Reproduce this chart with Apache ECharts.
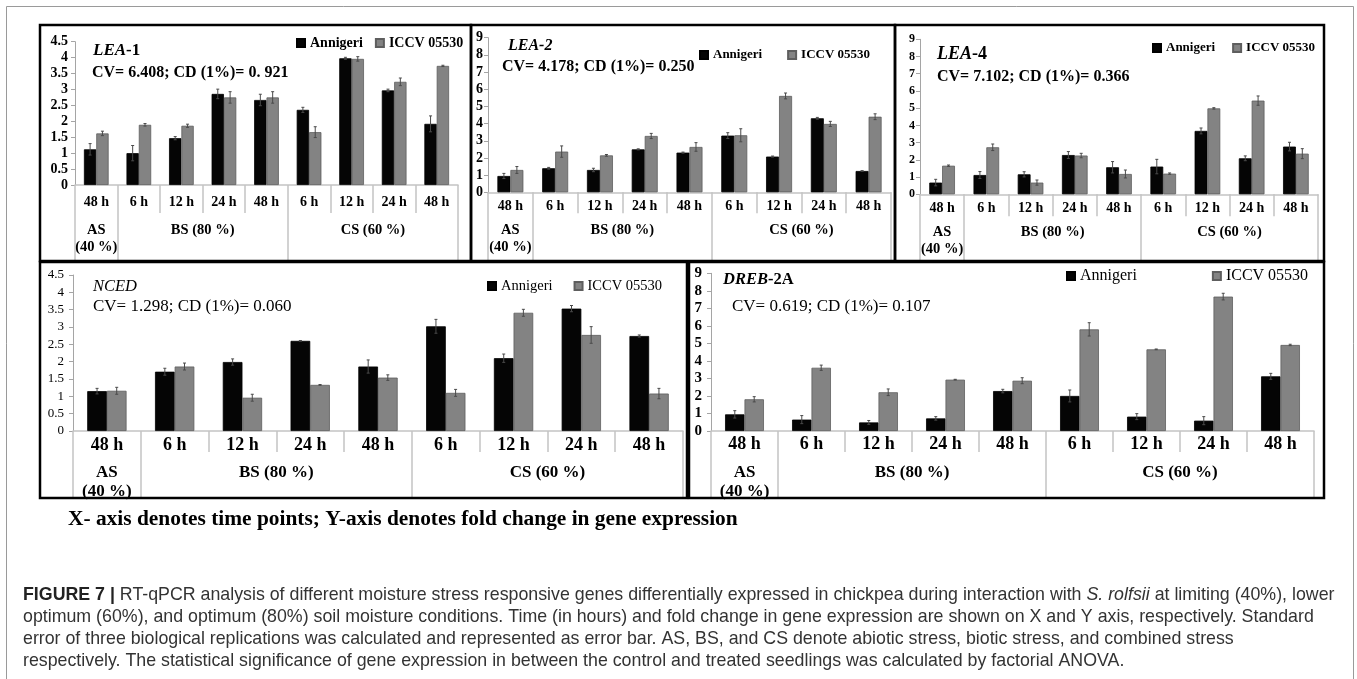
<!DOCTYPE html>
<html><head><meta charset="utf-8">
<script src="https://cdn.jsdelivr.net/npm/echarts@6/dist/echarts.min.js"></script>
<style>html,body{margin:0;padding:0;background:#fff}#c{width:1357px;height:679px}</style>
</head><body><div id="c"></div>
<script>
// ---------- data ----------
const timeLabels = ['48 h','6 h','12 h','24 h','48 h','6 h','12 h','24 h','48 h'];
const groupLabels = ['AS\n(40 %)','BS (80 %)','CS (60 %)'];
const groupBounds = [0, 1, 5, 9];
const seriesNames = ['Annigeri', 'ICCV 05530'];
const panelNames = ['{i|LEA}{b|-1}', '{i|LEA-2}', '{i|LEA}{b|-4}', '{i|NCED}', '{i|DREB}{b|-2A}'];
const cvTexts = ['CV= 6.408; CD (1%)= 0. 921', 'CV= 4.178; CD (1%)= 0.250', 'CV= 7.102; CD (1%)= 0.366',
                 'CV= 1.298; CD (1%)= 0.060', 'CV= 0.619; CD (1%)= 0.107'];
const yMaxes = [4.5, 9, 9, 4.5, 9];
const yIntervals = [0.5, 1, 1, 0.5, 1];

const lea1Annigeri    = [1.12, 1.00, 1.47, 2.86, 2.67, 2.36, 3.98, 2.97, 1.92];
const lea1Iccv        = [1.62, 1.89, 1.86, 2.75, 2.75, 1.66, 3.96, 3.24, 3.74];
const lea1AnnigeriErr = [0.18, 0.24, 0.05, 0.15, 0.18, 0.08, 0.03, 0.04, 0.25];
const lea1IccvErr     = [0.07, 0.04, 0.05, 0.18, 0.18, 0.17, 0.07, 0.12, 0.02];

const lea2Annigeri    = [0.95, 1.40, 1.30, 2.50, 2.31, 3.30, 2.08, 4.31, 1.24];
const lea2Iccv        = [1.30, 2.37, 2.15, 3.28, 2.64, 3.32, 5.61, 3.98, 4.40];
const lea2AnnigeriErr = [0.15, 0.05, 0.10, 0.03, 0.03, 0.17, 0.03, 0.05, 0.02];
const lea2IccvErr     = [0.20, 0.33, 0.05, 0.15, 0.25, 0.38, 0.17, 0.15, 0.17];

const lea4Annigeri    = [0.68, 1.12, 1.16, 2.28, 1.57, 1.61, 3.68, 2.09, 2.77];
const lea4Iccv        = [1.66, 2.73, 0.68, 2.25, 1.18, 1.20, 4.99, 5.44, 2.36];
const lea4AnnigeriErr = [0.19, 0.20, 0.15, 0.20, 0.33, 0.42, 0.17, 0.14, 0.25];
const lea4IccvErr     = [0.04, 0.19, 0.15, 0.13, 0.23, 0.04, 0.04, 0.27, 0.29];

const ncedAnnigeri    = [1.15, 1.71, 1.99, 2.60, 1.86, 3.02, 2.10, 3.53, 2.74];
const ncedIccv        = [1.16, 1.86, 0.96, 1.33, 1.54, 1.10, 3.41, 2.77, 1.08];
const ncedAnnigeriErr = [0.08, 0.10, 0.09, 0.01, 0.19, 0.20, 0.12, 0.09, 0.03];
const ncedIccvErr     = [0.10, 0.10, 0.10, 0.01, 0.08, 0.10, 0.10, 0.24, 0.15];

const drebAnnigeri    = [0.95, 0.65, 0.49, 0.72, 2.28, 2.00, 0.82, 0.59, 3.12];
const drebIccv        = [1.81, 3.61, 2.21, 2.93, 2.87, 5.80, 4.66, 7.67, 4.91];
const drebAnnigeriErr = [0.21, 0.23, 0.11, 0.10, 0.10, 0.34, 0.17, 0.23, 0.17];
const drebIccvErr     = [0.15, 0.15, 0.19, 0.02, 0.17, 0.38, 0.02, 0.19, 0.04];

const noteText = 'X- axis denotes time points; Y-axis denotes fold change in gene expression';
const captionLines = [
  '{b|FIGURE 7 |} RT-qPCR analysis of different moisture stress responsive genes differentially expressed in chickpea during interaction with {i|S. rolfsii} at limiting (40%), lower',
  'optimum (60%), and optimum (80%) soil moisture conditions. Time (in hours) and fold change in gene expression are shown on X and Y axis, respectively. Standard',
  'error of three biological replications was calculated and represented as error bar. AS, BS, and CS denote abiotic stress, biotic stress, and combined stress',
  'respectively. The statistical significance of gene expression in between the control and treated seedlings was calculated by factorial ANOVA.'
];

const panelData = [
  [lea1Annigeri, lea1Iccv, lea1AnnigeriErr, lea1IccvErr],
  [lea2Annigeri, lea2Iccv, lea2AnnigeriErr, lea2IccvErr],
  [lea4Annigeri, lea4Iccv, lea4AnnigeriErr, lea4IccvErr],
  [ncedAnnigeri, ncedIccv, ncedAnnigeriErr, ncedIccvErr],
  [drebAnnigeri, drebIccv, drebAnnigeriErr, drebIccvErr]
];

// ---------- layout / style ----------
const SERIF = 'Liberation Serif, Times New Roman, serif';
const SANS = 'Liberation Sans, Arial, sans-serif';
const LAYOUT = [
  {grid:{left:75, top:41.7, width:383, height:143.3}, box:[40,25,431,236],
   rowTick:28, groupTick:75, rowFont:14, rowMargin:10, groupFont:14.5, groupLH:17, groupMargin:36.5,
   yFont:14, yBold:'bold', yMargin:7, tFont:17, tBold:'bold', tX:93, tTop:41, cvFont:16, cvBold:'bold', cvX:92, cvTop:64,
   lg:{left:296, cy:43, font:14, gap:12, bold:'bold'}},
  {grid:{left:488, top:37.7, width:403, height:154.6}, box:[471,25,424,236],
   rowTick:21, groupTick:68, rowFont:14, rowMargin:7.5, groupFont:14.5, groupLH:17, groupMargin:29,
   yFont:14, yBold:'bold', yMargin:5, tFont:16, tBold:'bold', tX:508, tTop:37, cvFont:16, cvBold:'bold', cvX:502, cvTop:58,
   lg:{left:699, cy:55, font:13, gap:25, bold:'bold'}},
  {grid:{left:920, top:39.3, width:398, height:155}, box:[895,25,429,236],
   rowTick:22, groupTick:66.5, rowFont:14, rowMargin:7.5, groupFont:14.5, groupLH:17, groupMargin:29,
   yFont:12, yBold:'bold', yMargin:5, tFont:18, tBold:'bold', tX:937, tTop:44, cvFont:16, cvBold:'bold', cvX:937, cvTop:68,
   lg:{left:1152, cy:48, font:13, gap:17, bold:'bold'}},
  {grid:{left:73, top:275, width:610, height:156}, box:[40,262,647,236],
   rowTick:21, groupTick:67, rowFont:18, rowMargin:5, groupFont:17, groupLH:19, groupMargin:32,
   yFont:13, yBold:'normal', yMargin:9, tFont:16.5, tBold:'normal', tX:93, tTop:277, cvFont:17, cvBold:'normal', cvX:93, cvTop:297,
   lg:{left:487, cy:286, font:14.5, gap:21, bold:'normal'}},
  {grid:{left:711, top:273.3, width:603, height:157.7}, box:[689,262,635,236],
   rowTick:21, groupTick:67, rowFont:18, rowMargin:4, groupFont:17, groupLH:19, groupMargin:32,
   yFont:15, yBold:'bold', yMargin:9, tFont:16.5, tBold:'bold', tX:723, tTop:270, cvFont:17, cvBold:'normal', cvX:732, cvTop:297,
   lg:{left:1066, cy:276, font:16, gap:75, bold:'normal'}}
];
const COLORS = ['#050505', '#838383'];
const TABLE = '#c3c3c3';
const groupCenters = groupLabels.map((_, i) => (groupBounds[i] + groupBounds[i + 1]) / 2);

// ---------- build option ----------
const grid = [], xAxis = [], yAxis = [], series = [], legend = [], title = [];

function errRender(side) {
  return function (params, api) {
    const x = api.value(0), v = api.value(1), e = api.value(2);
    const band = api.size([1, 0])[0];
    const top = api.coord([x, v + e]);
    const bot = api.coord([x, v - e]);
    const cx = top[0] + side * band * 0.145;
    const st = {stroke: '#4a4a4a', lineWidth: 1};
    return {type: 'group', children: [
      {type: 'line', shape: {x1: cx, y1: top[1], x2: cx, y2: bot[1]}, style: st},
      {type: 'line', shape: {x1: cx - 1.5, y1: top[1], x2: cx + 1.5, y2: top[1]}, style: st},
      {type: 'line', shape: {x1: cx - 1.5, y1: bot[1], x2: cx + 1.5, y2: bot[1]}, style: st}
    ]};
  };
}

LAYOUT.forEach((L, k) => {
  grid.push(Object.assign({containLabel: false}, L.grid));
  xAxis.push({
    type: 'category', gridIndex: k, data: timeLabels, position: 'bottom',
    axisLine: {lineStyle: {color: TABLE, width: 1.5}},
    axisTick: {show: true, interval: 0, length: L.rowTick, lineStyle: {color: TABLE, width: 1.5}},
    axisLabel: {interval: 0, margin: L.rowMargin, color: '#000', fontFamily: SERIF, fontWeight: 'bold',
                fontSize: L.rowFont, lineHeight: L.rowFont},
    splitLine: {show: false}
  });
  xAxis.push({
    type: 'value', gridIndex: k, min: 0, max: 9, position: 'bottom',
    axisLine: {show: false},
    axisTick: {show: true, customValues: groupBounds, length: L.groupTick, lineStyle: {color: TABLE, width: 1.5}},
    axisLabel: {customValues: groupCenters, margin: L.groupMargin, color: '#000', fontFamily: SERIF,
                fontWeight: 'bold', fontSize: L.groupFont, lineHeight: L.groupLH,
                formatter: v => groupLabels[groupCenters.indexOf(v)] || ''},
    splitLine: {show: false}
  });
  yAxis.push({
    type: 'value', gridIndex: k, min: 0, max: yMaxes[k], interval: yIntervals[k],
    axisLine: {show: true, lineStyle: {color: '#a5a5a5', width: 1}},
    axisTick: {show: true, length: 4, lineStyle: {color: '#a5a5a5'}},
    axisLabel: {margin: L.yMargin, color: '#000', fontFamily: SERIF, fontWeight: L.yBold, fontSize: L.yFont},
    splitLine: {show: false}
  });
  const d = panelData[k];
  [0, 1].forEach(s => {
    series.push({
      type: 'bar', name: seriesNames[s], xAxisIndex: 2 * k, yAxisIndex: k, data: d[s],
      barGap: '0%', barCategoryGap: '42%',
      itemStyle: {color: COLORS[s], borderColor: s ? '#5e5e5e' : '#000', borderWidth: 0.8},
      emphasis: {disabled: true}, animation: false
    });
  });
  [0, 1].forEach(s => {
    series.push({
      type: 'custom', name: 'err' + k + s, xAxisIndex: 2 * k, yAxisIndex: k, z: 5,
      data: d[s].map((v, i) => [i, v, d[s + 2][i]]),
      encode: {x: 0, y: 1}, renderItem: errRender(s ? 1 : -1), animation: false, silent: true
    });
  });
  legend.push({
    data: seriesNames, left: L.lg.left, top: L.lg.cy - (L.lg.font + 2) / 2, padding: 0,
    itemWidth: 8, itemHeight: 8, itemGap: L.lg.gap, icon: 'rect', selectedMode: false,
    textStyle: {fontFamily: SERIF, fontWeight: L.lg.bold, fontSize: L.lg.font, color: '#000', lineHeight: L.lg.font + 2}
  });
  title.push({
    text: panelNames[k], left: L.tX, top: L.tTop, padding: 0,
    textStyle: {fontSize: L.tFont, lineHeight: L.tFont + 2, fontFamily: SERIF, color: '#000',
      rich: {
        i: {fontStyle: 'italic', fontWeight: L.tBold, fontSize: L.tFont, fontFamily: SERIF, color: '#000'},
        b: {fontStyle: 'normal', fontWeight: 'bold', fontSize: L.tFont, fontFamily: SERIF, color: '#000'}
      }}
  });
  title.push({
    text: cvTexts[k], left: L.cvX, top: L.cvTop, padding: 0,
    textStyle: {fontSize: L.cvFont, lineHeight: L.cvFont + 2, fontFamily: SERIF, fontWeight: L.cvBold, color: '#000'}
  });
});

const graphic = [
  {type: 'rect', shape: {x: 6.5, y: 6.5, width: 1347, height: 700}, style: {fill: 'none', stroke: '#9a9a9a', lineWidth: 1}, silent: true}
];
LAYOUT.forEach(L => {
  graphic.push({type: 'rect', shape: {x: L.box[0], y: L.box[1], width: L.box[2], height: L.box[3]},
    style: {fill: 'none', stroke: '#000', lineWidth: 2.5}, silent: true, z: 10});
});
graphic.push({type: 'text', x: 68, y: 519, silent: true,
  style: {text: noteText, fontFamily: SERIF, fontWeight: 'bold', fontSize: 21.4, fill: '#000', verticalAlign: 'middle'}});
const CAP = 17.8;
captionLines.forEach((t, i) => {
  graphic.push({type: 'text', x: 23, y: 595 + i * 22, silent: true,
    style: {text: t, fontFamily: SANS, fontSize: CAP, fill: '#333', verticalAlign: 'middle',
      rich: {
        b: {fontFamily: SANS, fontSize: CAP, fontWeight: 'bold', fill: '#222'},
        i: {fontFamily: SANS, fontSize: CAP, fontStyle: 'italic', fill: '#333'}
      }}});
});

const chart = echarts.init(document.getElementById('c'), null, {renderer: 'canvas'});
chart.setOption({
  backgroundColor: '#fff', animation: false,
  grid, xAxis, yAxis, series, legend, title, graphic
});
</script></body></html>
